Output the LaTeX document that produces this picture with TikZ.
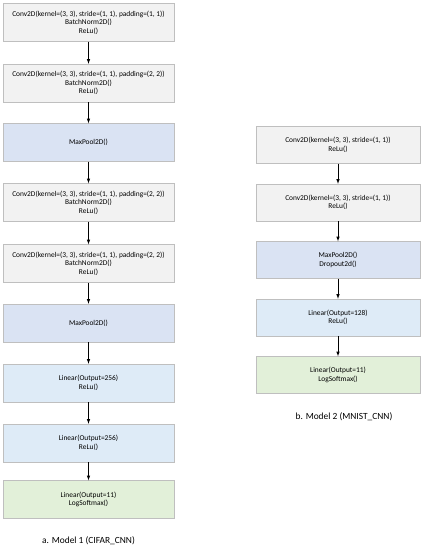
\documentclass[tikz,border=0pt]{standalone}
\usepackage{fontspec}
\setmainfont{Carlito}
\usetikzlibrary{arrows}
\usetikzlibrary{positioning}
\definecolor{LightGrey}{HTML}{F2F2F2}
\definecolor{PoolBlue}{HTML}{DAE3F3}
\definecolor{LinBlue}{HTML}{DEEBF7}
\definecolor{LightGreen}{HTML}{E2F0D9}
\definecolor{EdgeGrey}{HTML}{BFBFBF}
\tikzset{
  layer/.style={draw=EdgeGrey, inner sep=0pt, align=center,
    minimum height=38pt, font=\fontsize{7.4}{8.6}\selectfont},
  cifar/.style={layer, minimum width=171pt},
  mnist/.style={layer, minimum width=164pt, minimum height=37pt},
  conv/.style={fill=LightGrey},
  pool/.style={fill=PoolBlue},
  lin/.style={fill=LinBlue},
  outl/.style={fill=LightGreen},
  flow/.style={semithick,-latex},
  caption/.style={font=\fontsize{9.4}{11}\selectfont}
}
\begin{document}
\begin{tikzpicture}[x=1pt,y=-1pt]
  \useasboundingbox (0,0) rectangle (423,550);

  % model 1
  \node[cifar,conv] (COne)   at (88.5,22.5)
    {Conv2D(kernel=(3, 3), stride=(1, 1), padding=(1, 1))\\BatchNorm2D()\\ReLu()};
  \node[cifar,conv] (CTwo)   at (88.5,83)
    {Conv2D(kernel=(3, 3), stride=(1, 1), padding=(2, 2))\\BatchNorm2D()\\ReLu()};
  \node[cifar,pool] (CThree) at (88.5,142.5) {MaxPool2D()};
  \node[cifar,conv] (CFour)  at (88.5,202.5)
    {Conv2D(kernel=(3, 3), stride=(1, 1), padding=(2, 2))\\BatchNorm2D()\\ReLu()};
  \node[cifar,conv] (CFive)  at (88.5,263.5)
    {Conv2D(kernel=(3, 3), stride=(1, 1), padding=(2, 2))\\BatchNorm2D()\\ReLu()};
  \node[cifar,pool] (CSix)   at (88.5,323) {MaxPool2D()};
  \node[cifar,lin]  (CSeven) at (88.5,383) {Linear(Output=256)\\ReLu()};
  \node[cifar,lin]  (CEight) at (88.5,443) {Linear(Output=256)\\ReLu()};
  \node[cifar,outl] (CNine)  at (88.5,499.5) {Linear(Output=11)\\LogSoftmax()};
  \node[caption] (CCap) at (88.5,541) {a. Model 1 (CIFAR\_CNN)};

  % model 2
  \node[mnist,conv] (MOne)   at (338,145) {Conv2D(kernel=(3, 3), stride=(1, 1))\\ReLu()};
  \node[mnist,conv] (MTwo)   at (338,202.5) {Conv2D(kernel=(3, 3), stride=(1, 1))\\ReLu()};
  \node[mnist,pool] (MThree) at (338,260) {MaxPool2D()\\Dropout2d()};
  \node[mnist,lin]  (MFour)  at (338,317.5) {Linear(Output=128)\\ReLu()};
  \node[mnist,outl] (MFive)  at (338,375) {Linear(Output=11)\\LogSoftmax()};
  \node[caption] (MCap) at (344,417) {b. Model 2 (MNIST\_CNN)};

  \foreach \a/\b in {COne/CTwo,CTwo/CThree,CThree/CFour,CFour/CFive,CFive/CSix,
    CSix/CSeven,CSeven/CEight,CEight/CNine,
    MOne/MTwo,MTwo/MThree,MThree/MFour,MFour/MFive}{%
    \draw[flow] (\a) -- (\b);
  }
\end{tikzpicture}
\end{document}
